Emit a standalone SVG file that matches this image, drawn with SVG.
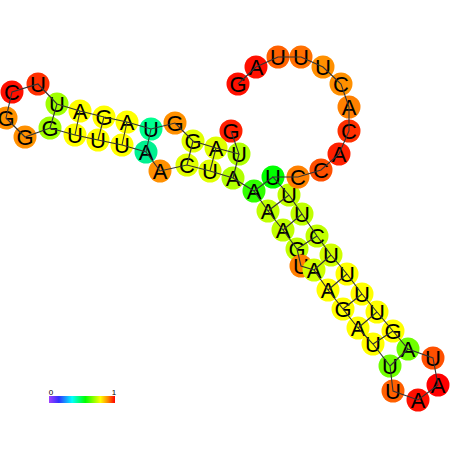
<svg xmlns="http://www.w3.org/2000/svg" width="452" height="452" viewBox="0 0 452 452">
<style>
.n circle{stroke:none}
.n text{font-family:"Liberation Sans",Arial,sans-serif;font-size:22px;fill:#000;text-anchor:middle}
.bb{fill:none;stroke:#333;stroke-width:1.1}
.pr{stroke:#333;stroke-width:1.1}
.cb{font-family:"Liberation Sans",Arial,sans-serif;font-size:8px;fill:#000;text-anchor:middle}
</style>
<defs>
<linearGradient id="grad" x1="0" y1="0" x2="1" y2="0">
<stop offset="0" stop-color="#a040ff"/>
<stop offset="0.15" stop-color="#3030ff"/>
<stop offset="0.35" stop-color="#00ffff"/>
<stop offset="0.55" stop-color="#00ff00"/>
<stop offset="0.78" stop-color="#ffff00"/>
<stop offset="0.9" stop-color="#ff8000"/>
<stop offset="1" stop-color="#ff0000"/>
</linearGradient>
</defs>
<rect width="452" height="452" fill="#fff"/>
<g id="nodes">
<g id="n1" class="n"><circle cx="231" cy="131" r="11.5" fill="#ff2000"/><text x="231" y="139">G</text></g>
<g id="n2" class="n"><circle cx="239" cy="154" r="11.5" fill="#b0ff00"/><text x="239" y="162">U</text></g>
<g id="n3" class="n"><circle cx="216" cy="148" r="11.5" fill="#e0ff00"/><text x="216" y="156">A</text></g>
<g id="n4" class="n"><circle cx="193" cy="141" r="11.5" fill="#e0ff00"/><text x="193" y="149">G</text></g>
<g id="n5" class="n"><circle cx="175" cy="123" r="11.5" fill="#ff9000"/><text x="175" y="131">G</text></g>
<g id="n6" class="n"><circle cx="151" cy="129" r="11.5" fill="#00ff90"/><text x="151" y="137">U</text></g>
<g id="n7" class="n"><circle cx="127" cy="122" r="11.5" fill="#ffff00"/><text x="127" y="130">A</text></g>
<g id="n8" class="n"><circle cx="104" cy="117" r="11.5" fill="#ffff00"/><text x="104" y="125">G</text></g>
<g id="n9" class="n"><circle cx="80" cy="111" r="11.5" fill="#ffff00"/><text x="80" y="119">A</text></g>
<g id="n10" class="n"><circle cx="57" cy="104" r="11.5" fill="#a0ff00"/><text x="57" y="112">U</text></g>
<g id="n11" class="n"><circle cx="38" cy="84" r="11.5" fill="#ff3000"/><text x="38" y="92">U</text></g>
<g id="n12" class="n"><circle cx="12" cy="92" r="11.5" fill="#ff1000"/><text x="12" y="100">C</text></g>
<g id="n13" class="n"><circle cx="6" cy="118" r="11.5" fill="#ff9000"/><text x="6" y="126">G</text></g>
<g id="n14" class="n"><circle cx="25" cy="137" r="11.5" fill="#ff9000"/><text x="25" y="145">G</text></g>
<g id="n15" class="n"><circle cx="50" cy="128" r="11.5" fill="#a0ff00"/><text x="50" y="136">G</text></g>
<g id="n16" class="n"><circle cx="75" cy="135" r="11.5" fill="#ffff00"/><text x="75" y="143">U</text></g>
<g id="n17" class="n"><circle cx="98" cy="140" r="11.5" fill="#ffff00"/><text x="98" y="148">U</text></g>
<g id="n18" class="n"><circle cx="122" cy="145" r="11.5" fill="#ffff00"/><text x="122" y="153">U</text></g>
<g id="n19" class="n"><circle cx="146" cy="152" r="11.5" fill="#00f090"/><text x="146" y="160">A</text></g>
<g id="n20" class="n"><circle cx="160" cy="171" r="11.5" fill="#ff9000"/><text x="160" y="179">A</text></g>
<g id="n21" class="n"><circle cx="187" cy="165" r="11.5" fill="#e0ff00"/><text x="187" y="173">C</text></g>
<g id="n22" class="n"><circle cx="210" cy="171" r="11.5" fill="#e0ff00"/><text x="210" y="179">U</text></g>
<g id="n23" class="n"><circle cx="233" cy="178" r="11.5" fill="#b0ff00"/><text x="233" y="186">A</text></g>
<g id="n24" class="n"><circle cx="254" cy="191" r="11.5" fill="#30ff00"/><text x="254" y="199">A</text></g>
<g id="n25" class="n"><circle cx="268" cy="211" r="11.5" fill="#c0ff00"/><text x="268" y="219">A</text></g>
<g id="n26" class="n"><circle cx="283" cy="230" r="11.5" fill="#c0ff00"/><text x="283" y="238">A</text></g>
<g id="n27" class="n"><circle cx="297" cy="249" r="11.5" fill="#c0ff00"/><text x="297" y="257">G</text></g>
<g id="n28" class="n"><circle cx="301" cy="266" r="11.5" fill="#ff8000"/><text x="301" y="274">U</text></g>
<g id="n29" class="n"><circle cx="314" cy="270" r="11.5" fill="#d0ff00"/><text x="314" y="278">A</text></g>
<g id="n30" class="n"><circle cx="328" cy="290" r="11.5" fill="#ffff00"/><text x="328" y="298">A</text></g>
<g id="n31" class="n"><circle cx="343" cy="309" r="11.5" fill="#ffff00"/><text x="343" y="317">G</text></g>
<g id="n32" class="n"><circle cx="358" cy="328" r="11.5" fill="#ffff00"/><text x="358" y="336">A</text></g>
<g id="n33" class="n"><circle cx="373" cy="344" r="11.5" fill="#ffff00"/><text x="373" y="352">U</text></g>
<g id="n34" class="n"><circle cx="390" cy="366" r="11.5" fill="#70ff00"/><text x="390" y="374">U</text></g>
<g id="n35" class="n"><circle cx="393" cy="391" r="11.5" fill="#ff6000"/><text x="393" y="399">U</text></g>
<g id="n36" class="n"><circle cx="418" cy="400" r="11.5" fill="#ff1000"/><text x="418" y="408">A</text></g>
<g id="n37" class="n"><circle cx="438" cy="385" r="11.5" fill="#ff0000"/><text x="438" y="393">A</text></g>
<g id="n38" class="n"><circle cx="433" cy="358" r="11.5" fill="#ff5000"/><text x="433" y="366">U</text></g>
<g id="n39" class="n"><circle cx="408" cy="349" r="11.5" fill="#70ff00"/><text x="408" y="357">A</text></g>
<g id="n40" class="n"><circle cx="393" cy="331" r="11.5" fill="#ffff00"/><text x="393" y="339">G</text></g>
<g id="n41" class="n"><circle cx="377" cy="312" r="11.5" fill="#ffff00"/><text x="377" y="320">U</text></g>
<g id="n42" class="n"><circle cx="362" cy="294" r="11.5" fill="#ffff00"/><text x="362" y="302">U</text></g>
<g id="n43" class="n"><circle cx="347" cy="274" r="11.5" fill="#ffff00"/><text x="347" y="282">U</text></g>
<g id="n44" class="n"><circle cx="331" cy="255" r="11.5" fill="#d0ff00"/><text x="331" y="263">U</text></g>
<g id="n45" class="n"><circle cx="317" cy="236" r="11.5" fill="#c0ff00"/><text x="317" y="244">C</text></g>
<g id="n46" class="n"><circle cx="302" cy="214" r="11.5" fill="#c0ff00"/><text x="302" y="222">U</text></g>
<g id="n47" class="n"><circle cx="289" cy="195" r="11.5" fill="#c0ff00"/><text x="289" y="203">U</text></g>
<g id="n48" class="n"><circle cx="273" cy="177" r="11.5" fill="#00ff00"/><text x="273" y="185">U</text></g>
<g id="n49" class="n"><circle cx="298" cy="177" r="11.5" fill="#ff8000"/><text x="298" y="185">C</text></g>
<g id="n50" class="n"><circle cx="321" cy="170" r="11.5" fill="#ff5000"/><text x="321" y="178">C</text></g>
<g id="n51" class="n"><circle cx="339" cy="154" r="11.5" fill="#ff2000"/><text x="339" y="162">A</text></g>
<g id="n52" class="n"><circle cx="349" cy="131" r="11.5" fill="#ff3000"/><text x="349" y="139">C</text></g>
<g id="n53" class="n"><circle cx="349" cy="107" r="11.5" fill="#ff8000"/><text x="349" y="115">A</text></g>
<g id="n54" class="n"><circle cx="341" cy="84" r="11.5" fill="#ff9000"/><text x="341" y="92">C</text></g>
<g id="n55" class="n"><circle cx="323" cy="67" r="11.5" fill="#ff9000"/><text x="323" y="75">U</text></g>
<g id="n56" class="n"><circle cx="301" cy="57" r="11.5" fill="#ff7000"/><text x="301" y="65">U</text></g>
<g id="n57" class="n"><circle cx="278" cy="57" r="11.5" fill="#ff6000"/><text x="278" y="65">U</text></g>
<g id="n58" class="n"><circle cx="256" cy="67" r="11.5" fill="#ff1000"/><text x="256" y="75">A</text></g>
<g id="n59" class="n"><circle cx="238" cy="84" r="11.5" fill="#ff1000"/><text x="238" y="92">G</text></g>
</g>
<g id="connectors">
<polyline class="bb" points="231,131 239,154 216,148 193,141 175,123 151,129 127,122 104,117 80,111 57,104 38,84 12,92 6,118 25,137 50,128 75,135 98,140 122,145 146,152 160,171 187,165 210,171 233,178 254,191 268,211 283,230 297,249 301,266 314,270 328,290 343,309 358,328 373,344 390,366 393,391 418,400 438,385 433,358 408,349 393,331 377,312 362,294 347,274 331,255 317,236 302,214 289,195 273,177 298,177 321,170 339,154 349,131 349,107 341,84 323,67 301,57 278,57 256,67 238,84"/>
<line class="pr" x1="239" y1="154" x2="233" y2="178"/>
<line class="pr" x1="216" y1="148" x2="210" y2="171"/>
<line class="pr" x1="193" y1="141" x2="187" y2="165"/>
<line class="pr" x1="151" y1="129" x2="146" y2="152"/>
<line class="pr" x1="127" y1="122" x2="122" y2="145"/>
<line class="pr" x1="104" y1="117" x2="98" y2="140"/>
<line class="pr" x1="80" y1="111" x2="75" y2="135"/>
<line class="pr" x1="57" y1="104" x2="50" y2="128"/>
<line class="pr" x1="254" y1="191" x2="273" y2="177"/>
<line class="pr" x1="268" y1="211" x2="289" y2="195"/>
<line class="pr" x1="283" y1="230" x2="302" y2="214"/>
<line class="pr" x1="297" y1="249" x2="317" y2="236"/>
<line class="pr" x1="314" y1="270" x2="331" y2="255"/>
<line class="pr" x1="328" y1="290" x2="347" y2="274"/>
<line class="pr" x1="343" y1="309" x2="362" y2="294"/>
<line class="pr" x1="358" y1="328" x2="377" y2="312"/>
<line class="pr" x1="373" y1="344" x2="393" y2="331"/>
<line class="pr" x1="390" y1="366" x2="408" y2="349"/>
</g>
<g id="colorbar">
<rect x="49" y="396" width="66" height="7" fill="url(#grad)"/>
<text class="cb" x="51" y="395">0</text>
<text class="cb" x="114" y="395">1</text>
</g>
</svg>
